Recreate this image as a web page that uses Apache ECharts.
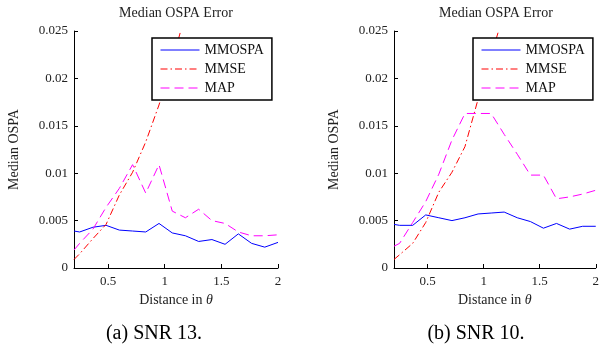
<!DOCTYPE html>
<html>
<head>
<meta charset="utf-8">
<script src="https://cdn.jsdelivr.net/npm/echarts@6/dist/echarts.min.js"></script>
<style>
  html, body { margin: 0; padding: 0; background: #fff; }
  #chart { width: 602px; height: 345px; }
</style>
</head>
<body>
<div id="chart"></div>
<script>
// distance in theta (shared by both panels)
const xVals = [0.2, 0.25, 0.367, 0.483, 0.6, 0.717, 0.833, 0.95, 1.067, 1.183, 1.3, 1.417, 1.533, 1.65, 1.767, 1.883, 2.0];
const xTicks = [0.5, 1, 1.5, 2];

// (a) SNR 13
const mmospa13 = [0.0039, 0.0038, 0.0043, 0.0045, 0.0040, 0.0039, 0.0038, 0.0047, 0.0037, 0.0034, 0.0028, 0.0030, 0.0025, 0.0036, 0.0026, 0.0022, 0.0027];
const mmse13 = [0.0009, 0.0015, 0.0031, 0.0046, 0.0077, 0.0101, 0.0133, 0.0172, 0.0218, 0.0268, null, null, null, null, null, null, null];
const map13 = [0.0019, 0.0026, 0.0041, 0.0064, 0.0084, 0.0109, 0.0079, 0.0109, 0.0060, 0.0053, 0.0062, 0.0050, 0.0047, 0.0038, 0.0034, 0.0034, 0.0035];

// (b) SNR 10
const mmospa10 = [0.0046, 0.0045, 0.0045, 0.0056, 0.0053, 0.0050, 0.0053, 0.0057, 0.0058, 0.0059, 0.0053, 0.0049, 0.0042, 0.0047, 0.0041, 0.0044, 0.0044];
const mmse10 = [0.0009, 0.0014, 0.0026, 0.0048, 0.0080, 0.0101, 0.0128, 0.0178, 0.0224, 0.0270, null, null, null, null, null, null, null];
const map10 = [0.0023, 0.0026, 0.0048, 0.0070, 0.0099, 0.0135, 0.0163, 0.0163, 0.0163, 0.0141, 0.0120, 0.0098, 0.0098, 0.0073, 0.0075, 0.0078, 0.0082];

const names = ['MMOSPA', 'MMSE', 'MAP'];
const captions = ['(a) SNR 13.', '(b) SNR 10.'];

const FONT = 'Liberation Serif';

const styles = {
  MMOSPA: { color: '#0000ff', type: 'solid' },
  MMSE: { color: '#ff0000', type: [7, 3, 1.5, 3] },
  MAP: { color: '#ff00ff', type: [9, 5] },
};

const pairs = (ys) => xVals.map((x, i) => [x, ys[i]]);

const panels = [
  { left: 74, center: 176, capCenter: 154, legendLeft: 152, data: [mmospa13, mmse13, map13] },
  { left: 394, center: 496, capCenter: 476, legendLeft: 473, data: [mmospa10, mmse10, map10] },
];

const chart = echarts.init(document.getElementById('chart'));

const option = {
  animation: false,
  backgroundColor: '#fff',
  title: [],
  legend: [],
  grid: [],
  xAxis: [],
  yAxis: [],
  series: [],
};

panels.forEach((p, k) => {
  option.title.push({
    text: 'Median OSPA Error',
    left: p.center, top: 6, textAlign: 'center', padding: 0,
    textStyle: { fontFamily: FONT, fontSize: 14, fontWeight: 'normal', color: '#222' },
  });
  option.title.push({
    text: captions[k],
    left: p.capCenter, top: 324, textAlign: 'center', padding: 0,
    textStyle: { fontFamily: FONT, fontSize: 20, fontWeight: 'normal', color: '#000' },
  });
  option.legend.push({
    data: names,
    orient: 'vertical',
    left: p.legendLeft, top: 38,
    padding: [5, 8, 5, 8],
    itemWidth: 39, itemHeight: 14, itemGap: 5,
    backgroundColor: '#fff',
    borderColor: '#000', borderWidth: 1.5, borderRadius: 0,
    selectedMode: false,
    itemStyle: { opacity: 0 },
    lineStyle: { width: 1 },
    textStyle: { fontFamily: FONT, fontSize: 14, color: '#111' },
  });
  option.grid.push({ left: p.left, top: 31, width: 204, height: 237 });
  option.xAxis.push({
    type: 'value', gridIndex: k, min: 0.2, max: 2,
    name: 'Distance in {i|θ}', nameLocation: 'middle', nameGap: 23,
    nameTextStyle: {
      fontFamily: FONT, fontSize: 14, color: '#222',
      rich: { i: { fontFamily: FONT, fontSize: 14, fontStyle: 'italic', color: '#222' } },
    },
    axisLine: { lineStyle: { color: '#000', width: 1 } },
    axisTick: { inside: true, length: 4, customValues: xTicks, lineStyle: { color: '#000' } },
    axisLabel: { customValues: xTicks, margin: 7, fontFamily: FONT, fontSize: 13, color: '#222' },
    splitLine: { show: false },
  });
  option.yAxis.push({
    type: 'value', gridIndex: k, min: 0, max: 0.025, interval: 0.005,
    name: 'Median OSPA', nameLocation: 'middle', nameGap: 53,
    nameTextStyle: { fontFamily: FONT, fontSize: 14, color: '#222' },
    axisLine: { show: true, lineStyle: { color: '#000', width: 1 } },
    axisTick: { show: true, inside: true, length: 4, lineStyle: { color: '#000' } },
    axisLabel: { margin: 6, fontFamily: FONT, fontSize: 13, color: '#222' },
    splitLine: { show: false },
  });
  names.forEach((n, j) => {
    option.series.push({
      name: n, type: 'line',
      xAxisIndex: k, yAxisIndex: k,
      data: pairs(p.data[j]),
      symbol: 'none',
      clip: true,
      connectNulls: false,
      lineStyle: { color: styles[n].color, width: 1, type: styles[n].type },
      itemStyle: { color: styles[n].color },
    });
  });
});

chart.setOption(option);
</script>
</body>
</html>
